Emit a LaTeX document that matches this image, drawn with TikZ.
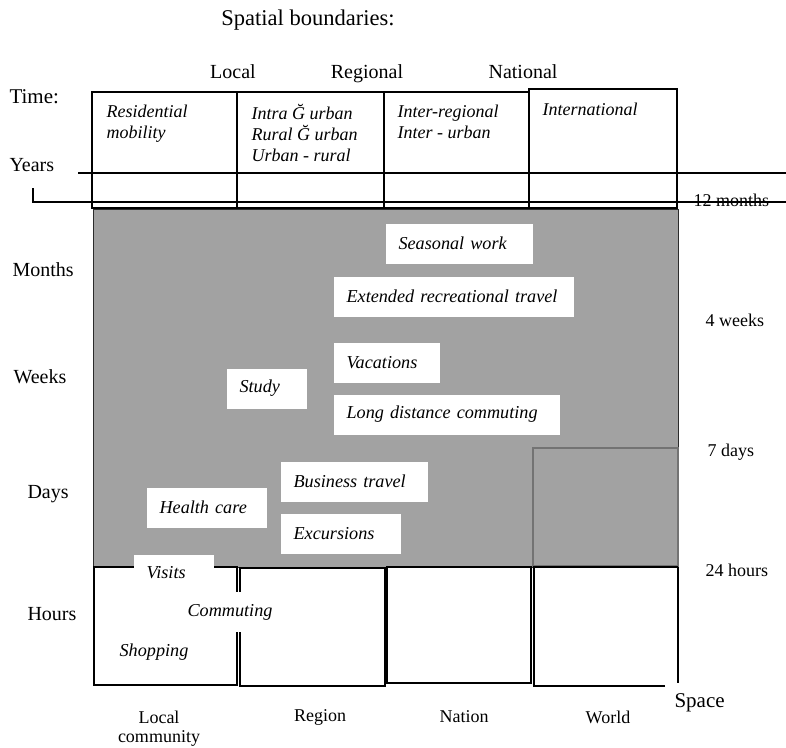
\documentclass[tikz,border=0pt]{standalone}
\usepackage{fontspec}
\setmainfont{Liberation Serif}
\usepackage{xcolor}
\usepackage{tikz}
\usetikzlibrary{positioning}
\definecolor{shade}{HTML}{A2A2A2}
\definecolor{edge}{HTML}{2B2B2B}
\begin{document}
\begin{tikzpicture}[
  x=1pt, y=-1pt,
  line width=1.1pt,
  ax/.style={font=\fontsize{20}{24}\selectfont, anchor=west, inner sep=0pt},
  rlab/.style={font=\fontsize{18}{22}\selectfont, anchor=west, inner sep=0pt},
  col/.style={font=\fontsize{18}{21}\selectfont, align=center, inner sep=0pt},
  bound/.style={font=\fontsize{20}{24}\selectfont, anchor=base, inner sep=0pt},
  kind/.style={font=\itshape\fontsize{18}{21}\selectfont, anchor=north west, align=left, inner sep=0pt},
  act/.style={fill=white, anchor=north west, minimum height=40pt, inner ysep=0pt, inner xsep=13pt,
    text width=#1, align=left, font=\itshape\fontsize{18.2}{22}\selectfont},
  shaded/.style={fill=shade, draw=edge, line width=0.8pt},
]
\useasboundingbox (0,0) rectangle (786,747);

% ---------- heading ----------
\node[font=\fontsize{22.5}{27}\selectfont] (title) at (308,20) {Spatial boundaries:};
\node[bound] (loc) at (233,78) {Local};
\node[bound] (reg) at (367,78) {Regional};
\node[bound] (nat) at (523,78) {National};

% ---------- top row: migration ----------
\draw (92,92) rectangle (237,208);
\draw (237,92) rectangle (384,208);
\draw (384,92) rectangle (529,208);
\draw (529,89) rectangle (677,208);
\node[kind] (res) at (106,104) {Residential\\mobility};
\node[kind] (intra) at (251,104) {Intra Ğ urban\\Rural Ğ urban\\Urban - rural};
\node[kind] (inter) at (397,104) {Inter-regional\\Inter - urban};
\node[kind] (intl) at (542,102) {International};
\node[rlab] (m12) at (693,200) {12 months};
\draw (78,173) -- (786,173);
\draw (33,188) -- (33,202) -- (786,202);

% ---------- shaded field: circulation ----------
\draw[shaded] (93,209) rectangle (678,567);
\draw[draw=black!55, line width=1.4pt] (533,448) rectangle (678,566);

% ---------- bottom row ----------
\draw (94,567) rectangle (237,685);
\draw (240,568) rectangle (385,686);
\draw (387,567) rectangle (531,683);
\draw (678,567) -- (678,683);
\draw (665,686) -- (534,686) -- (534,567) -- (678,567);

% ---------- activities ----------
\node[act=121] (season) at (385,223) {Seasonal work};
\node[act=214] (extend) at (333,276) {Extended recreational travel};
\node[act=80] (vacat) at (333,342) {Vacations};
\node[act=54] (study) at (226,368) {Study};
\node[act=200] (longd) at (333,394) {Long distance commuting};
\node[act=121] (busin) at (280,461) {Business travel};
\node[act=94] (health) at (146,487) {Health care};
\node[act=94] (excur) at (280,513) {Excursions};
\node[act=54, minimum height=36pt] (visit) at (133,554) {Visits};
\node[fill=white, inner xsep=1pt, minimum height=40pt, font=\itshape\fontsize{18.2}{22}\selectfont] (commut) at (230,612) {Commuting};
\node[font=\itshape\fontsize{18.2}{22}\selectfont] (shop) at (154,652) {Shopping};

% ---------- time axis ----------
\node[ax, font=\fontsize{21}{24}\selectfont] (time) at (9,97) {Time:};
\node[ax] (years) at (9,165) {Years};
\node[ax] (months) at (12,270) {Months};
\node[ax] (weeks) at (13,377) {Weeks};
\node[ax] (days) at (27,494) {Days};
\node[ax] (hours) at (27,614) {Hours};
\node[rlab] (w4) at (705,320) {4 weeks};
\node[rlab] (d7) at (707,452) {7 days};
\node[rlab] (h24) at (705,570) {24 hours};

% ---------- space axis ----------
\node[ax, font=\fontsize{21}{24}\selectfont] (space) at (674,703) {Space};
\node[col] (lcom) at (159,717) {Local};
\node[col, below=6pt of lcom] (lcom2) {community};
\node[col] (regn) at (320,717) {Region};
\node[col] (natn) at (464,717) {Nation};
\node[col] (world) at (608,717) {World};
\end{tikzpicture}
\end{document}
